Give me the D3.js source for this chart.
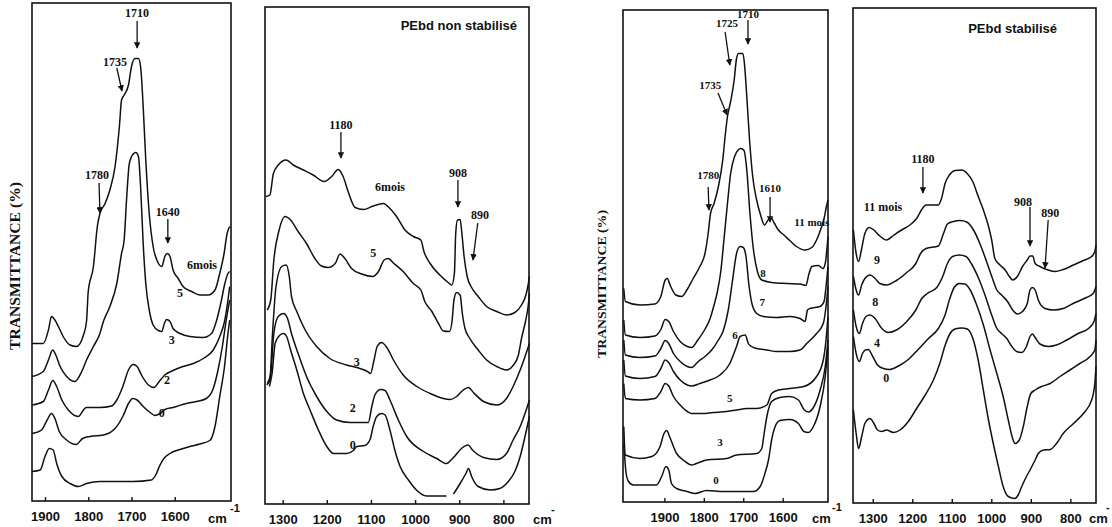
<!DOCTYPE html>
<html lang="fr">
<head>
<meta charset="UTF-8">
<title>Spectres IR PEbd</title>
<script src="https://cdnjs.cloudflare.com/ajax/libs/d3/7.8.5/d3.min.js"></script>
<style>
  body { margin: 0; background: #fff; }
  svg { display: block; }
  .tick text { font-family: "Liberation Sans", Arial, sans-serif; font-size: 13px; font-weight: bold; fill: #111; }
  .lbl { font-family: "Liberation Serif", "Times New Roman", serif; font-weight: bold; fill: #111; }
</style>
</head>
<body>
<div id="chart"></div>
<script>
// ---- panel 1 : PEbd non stabilise, 1930-1470 cm-1 ----
const p1Range = [1930, 1470];
const p1Ticks = [1900, 1800, 1700, 1600];
const p1Names = ['6mois', '5', '3', '2', '0'];
const p1NameAt = [[1537, 47.2], [1588, 41.6], [1607, 32.2], [1618, 24.2], [1630, 17.6]];
const p1_6mois = [[1930,31.5],[1904,31.5],[1892,34.2],[1885,36.9],[1877,36.2],[1869,34.9],[1858,32.9],[1842,31.2],[1827,30.9],[1811,33.2],[1804,35.9],[1800,41.9],[1788,46.9],[1779,54.9],[1773,57.5],[1761,59.5],[1750,62.2],[1738,66.9],[1728,74.9],[1723,80.2],[1717,81.2],[1707,83.2],[1700,86.9],[1692,88.5],[1684,88.5],[1679,86.9],[1673,78.9],[1667,68.2],[1659,57.5],[1650,50.9],[1640,47.9],[1630,46.9],[1623,48.9],[1617,49.5],[1611,48.9],[1604,46.2],[1592,44.5],[1581,42.9],[1561,41.9],[1542,41.2],[1523,41.2],[1507,42.2],[1496,45.5],[1486,49.5],[1479,53.5],[1473,54.9]];
const p1_5 = [[1930,24.9],[1904,25.9],[1892,28.2],[1882,30.2],[1875,29.2],[1865,26.9],[1850,24.9],[1831,23.9],[1815,25.9],[1804,28.2],[1788,30.9],[1773,33.5],[1765,35.9],[1750,38.9],[1734,43.5],[1723,49.5],[1717,52.2],[1711,60.9],[1705,67.5],[1696,69.4],[1690,69.7],[1684,68.9],[1679,62.9],[1673,51.5],[1667,43.5],[1659,38.2],[1650,35.2],[1638,34.1],[1630,33.9],[1624,35.5],[1619,36.3],[1611,35.9],[1604,34.5],[1588,33.5],[1565,32.9],[1534,32.7],[1515,33.5],[1504,35.9],[1492,40.2],[1485,43.2],[1477,45.5],[1473,45.9]];
const p1_3 = [[1930,19.2],[1904,19.9],[1892,22.2],[1882,24.1],[1873,22.9],[1861,20.2],[1846,18.2],[1823,16.9],[1811,18.2],[1805,18.7],[1773,18.7],[1746,19.0],[1734,20.2],[1720,22.9],[1707,26.2],[1696,27.3],[1687,26.9],[1677,25.2],[1661,23.2],[1648,22.7],[1636,23.9],[1623,25.2],[1604,26.1],[1581,26.9],[1557,27.5],[1534,28.5],[1511,30.2],[1496,32.9],[1485,35.9],[1477,40.2],[1473,42.9]];
const p1_2 = [[1930,13.5],[1908,14.2],[1895,16.2],[1885,17.5],[1877,16.5],[1867,13.9],[1850,12.2],[1828,11.3],[1813,12.5],[1796,12.9],[1765,13.2],[1738,14.5],[1719,17.1],[1707,19.5],[1697,20.5],[1687,20.2],[1673,18.9],[1657,17.7],[1646,17.1],[1634,17.5],[1623,18.3],[1604,18.7],[1573,19.5],[1550,19.9],[1527,20.5],[1511,22.5],[1500,26.2],[1490,30.9],[1481,36.2],[1473,40.2]];
const p1_0 = [[1930,5.9],[1911,6.2],[1900,8.9],[1890,10.5],[1881,10.2],[1873,7.5],[1861,4.9],[1842,3.5],[1823,2.9],[1804,3.5],[1773,3.9],[1696,3.9],[1654,4.2],[1644,5.2],[1634,7.2],[1625,8.5],[1611,9.5],[1588,10.3],[1565,10.9],[1542,11.4],[1519,12.1],[1507,14.9],[1496,20.9],[1485,26.9],[1477,33.5],[1473,36.2]];
const p1Peaks = [
  { label: '1710', text: [1687, 97.6], from: [1687, 96.0], to: [1687, 90.6] },
  { label: '1735', text: [1738, 87.8], from: [1734, 86.6], to: [1722, 82.0] },
  { label: '1780', text: [1780, 65.2], from: [1775, 63.6], to: [1773, 57.6] },
  { label: '1640', text: [1616, 57.8], from: [1616, 56.4], to: [1616, 51.6] }
];

// ---- panel 2 : PEbd non stabilise, 1340-742 cm-1 ----
const p2Range = [1340, 742];
const p2Ticks = [1300, 1200, 1100, 1000, 900, 800];
const p2Names = ['6mois', '5', '3', '2', '0'];
const p2NameAt = [[1057, 63.4], [1095, 50.2], [1132, 28.4], [1141, 19.2], [1141, 11.8]];
const p2_6mois = [[1338,61.5],[1329,61.8],[1321,66.1],[1310,67.8],[1292,68.8],[1276,67.8],[1253,66.8],[1231,65.8],[1206,64.5],[1189,65.5],[1174,66.9],[1163,65.5],[1151,62.3],[1136,59.3],[1117,58.9],[1095,59.6],[1072,60.1],[1057,59.1],[1042,57.5],[1023,54.8],[1004,53.5],[987,52.8],[980,50.5],[966,48.1],[944,45.8],[925,44.3],[917,43.8],[911,46.1],[908,54.1],[904,56.8],[898,56.9],[894,54.1],[889,49.5],[882,45.5],[872,43.3],[857,41.5],[838,39.5],[815,38.5],[793,37.8],[774,38.3],[759,39.8],[749,41.8],[744,43.8],[741,45.5]];
const p2_5 = [[1335,38.8],[1327,40.8],[1320,48.8],[1308,54.8],[1295,57.5],[1282,56.8],[1265,54.5],[1246,52.1],[1227,49.1],[1212,47.6],[1197,47.3],[1181,48.1],[1170,50.0],[1159,49.1],[1144,47.1],[1121,46.0],[1096,45.5],[1083,46.5],[1070,48.8],[1061,49.1],[1048,48.1],[1027,46.5],[1004,44.1],[987,42.8],[978,40.5],[962,38.5],[947,36.1],[936,34.6],[922,34.5],[916,36.8],[912,40.8],[906,42.3],[898,41.8],[893,38.1],[887,35.1],[876,33.1],[857,30.8],[838,28.8],[815,27.5],[793,26.8],[778,27.7],[766,29.8],[759,33.1],[750,36.5],[744,39.5],[741,42.1]];
const p2_3 = [[1336,23.8],[1329,24.8],[1323,34.1],[1315,43.5],[1302,47.5],[1292,47.8],[1285,45.5],[1280,41.5],[1268,38.5],[1249,34.8],[1223,31.5],[1193,29.1],[1155,27.8],[1125,27.1],[1108,26.5],[1101,26.1],[1093,28.8],[1086,31.5],[1076,32.3],[1064,31.3],[1049,28.8],[1027,25.8],[996,23.5],[966,22.1],[936,21.1],[921,20.9],[906,21.5],[891,22.8],[879,23.3],[868,22.3],[845,20.5],[815,19.8],[793,21.1],[778,23.5],[762,26.8],[751,29.5],[741,32.1]];
const p2_2 = [[1335,24.1],[1327,26.1],[1320,34.1],[1310,37.5],[1298,38.1],[1289,37.1],[1280,34.1],[1265,30.1],[1246,25.5],[1223,21.5],[1200,18.5],[1178,16.8],[1147,16.3],[1106,16.3],[1098,19.5],[1091,21.8],[1078,22.9],[1068,22.7],[1057,20.8],[1038,16.8],[1019,13.5],[981,10.5],[951,9.1],[929,8.1],[913,9.3],[895,11.1],[880,11.8],[870,10.8],[845,9.3],[815,8.9],[793,10.1],[778,12.8],[762,15.5],[751,18.1],[741,20.8]];
const p2_0 = [[1330,23.5],[1324,26.1],[1317,32.1],[1306,33.8],[1298,34.1],[1291,33.5],[1282,30.8],[1268,26.8],[1253,22.1],[1238,18.8],[1219,14.8],[1200,11.5],[1185,10.1],[1155,10.1],[1140,10.7],[1132,11.5],[1114,11.7],[1102,12.9],[1095,15.5],[1087,17.5],[1076,18.1],[1068,17.8],[1057,14.8],[1046,10.8],[1034,7.5],[1015,4.8],[997,2.8],[974,1.6],[929,1.6],null,[913,2.0],[898,4.1],[885,6.1],[879,7.1],[872,5.5],[857,3.5],[830,2.8],[808,3.1],[789,4.5],[774,6.5],[762,9.5],[751,13.5],[741,17.5]];
const p2Peaks = [
  { label: '1180', text: [1168, 75.8], from: [1168, 74.4], to: [1168, 69.2] },
  { label: '908', text: [903, 66.2], from: [903, 64.8], to: [903, 59.4] },
  { label: '890', text: [853, 57.8], from: [858, 56.2], to: [869, 48.8] }
];

// ---- panel 3 : PEbd stabilise, 2005-1485 cm-1 ----
const p3Range = [2005, 1485];
const p3Ticks = [1900, 1800, 1700, 1600];
const p3Names = ['11 mois', '8', '7', '6', '5', '3', '0'];
const p3NameAt = [[1526, 56], [1650, 45.8], [1652, 40], [1721, 33.4], [1734, 20.8], [1759, 12], [1769, 4.4]];
const p3_11 = [[2003,42.7],[1999,40.1],[1962,39.4],[1924,39.6],[1909,41.1],[1898,44.4],[1893,44.7],[1884,43.1],[1871,41.4],[1856,41.1],[1843,42.4],[1827,44.7],[1810,47.1],[1797,49.7],[1789,53.7],[1783,57.7],[1774,59.7],[1763,63.1],[1752,68.4],[1746,73.1],[1740,77.1],[1732,80.1],[1723,84.4],[1717,88.7],[1712,89.7],[1701,89.7],[1697,87.7],[1691,81.1],[1684,72.4],[1676,65.1],[1666,60.4],[1656,57.4],[1646,55.4],[1637,56.4],[1630,56.9],[1622,55.9],[1611,54.4],[1597,53.4],[1582,52.3],[1565,51.1],[1543,50.4],[1526,50.9],[1514,52.4],[1504,54.4],[1495,56.7],[1489,59.1],[1485,60.4]];
const p3_8 = [[2003,36.4],[1999,33.4],[1962,32.9],[1924,33.2],[1909,34.5],[1898,36.5],[1889,36.1],[1877,34.1],[1860,32.1],[1842,31.1],[1831,30.9],[1816,32.3],[1799,34.3],[1784,36.7],[1774,39.4],[1766,41.9],[1757,46.1],[1749,52.4],[1740,59.7],[1732,65.7],[1722,69.1],[1713,70.4],[1706,70.7],[1698,70.3],[1691,66.4],[1683,57.7],[1674,50.4],[1664,46.1],[1653,44.4],[1628,43.9],[1590,43.7],[1556,43.6],[1541,43.3],[1534,45.4],[1526,47.1],[1509,47.3],[1498,46.7],[1492,47.7],[1488,50.4],[1485,53.1]];
const p3_7 = [[2003,32.4],[1999,29.4],[1962,28.9],[1924,29.2],[1909,30.7],[1898,32.3],[1889,31.7],[1877,29.7],[1860,28.1],[1842,27.1],[1831,26.9],[1814,28.1],[1797,29.1],[1780,30.4],[1763,32.4],[1750,34.4],[1738,38.4],[1727,44.4],[1717,49.7],[1708,51.1],[1700,50.9],[1693,49.1],[1686,43.7],[1678,39.7],[1666,37.7],[1649,37.1],[1615,36.9],[1582,37.1],[1556,36.7],[1543,36.1],[1537,38.4],[1531,38.7],[1505,39.1],[1495,40.1],[1490,43.1],[1485,47.1]];
const p3_6 = [[2003,28.4],[1999,25.2],[1962,24.7],[1924,25.1],[1909,26.7],[1898,28.4],[1889,27.9],[1877,26.1],[1860,24.4],[1842,23.4],[1831,23.2],[1810,23.7],[1784,24.4],[1759,25.4],[1734,27.7],[1717,31.1],[1708,33.1],[1695,33.4],[1687,31.7],[1679,31.1],[1666,30.7],[1640,30.4],[1615,30.1],[1582,30.1],[1556,30.4],[1539,31.7],[1514,33.7],[1497,35.7],[1490,39.1],[1485,43.1]];
const p3_5 = [[2003,23.7],[1999,20.7],[1962,20.4],[1924,20.7],[1909,22.1],[1898,23.7],[1889,23.2],[1877,21.1],[1860,19.4],[1842,18.1],[1831,17.7],[1805,17.7],[1776,17.9],[1742,18.1],[1717,18.4],[1691,18.7],[1666,18.7],[1640,19.4],[1628,21.7],[1611,22.4],[1582,22.7],[1546,23.1],[1514,25.1],[1497,28.4],[1490,32.4],[1485,37.1]];
const p3_3 = [[2003,15.1],[1999,9.4],[1962,8.7],[1932,9.1],[1911,11.1],[1901,13.7],[1894,14.3],[1887,13.1],[1869,9.7],[1852,8.4],[1831,7.4],[1822,7.6],[1793,8.4],[1742,8.7],[1717,9.4],[1666,9.7],[1653,10.7],[1647,13.7],[1640,17.1],[1628,20.1],[1607,20.9],[1582,21.1],[1560,20.4],[1546,18.5],[1535,18.0],[1522,18.9],[1505,22.4],[1492,27.1],[1485,32.4]];
const p3_0 = [[2003,11.7],[1997,5.7],[1991,4.1],[1979,3.4],[1920,3.4],[1907,5.1],[1896,7.1],[1889,6.4],[1882,3.7],[1869,2.7],[1843,2.1],[1822,1.7],[1793,2.3],[1750,2.1],[1674,2.1],[1657,3.1],[1645,5.7],[1636,8.4],[1628,12.4],[1619,15.1],[1607,16.3],[1582,16.5],[1560,15.7],[1546,14.1],[1535,13.9],[1522,15.1],[1505,19.1],[1492,25.1],[1485,31.1]];
const p3Peaks = [
  { label: '1710', text: [1688, 97.6], from: [1688, 96.4], to: [1688, 91.6] },
  { label: '1725', text: [1741, 95.8], from: [1746, 94.0], to: [1734, 87.4] },
  { label: '1735', text: [1784, 83.4], from: [1764, 81.8], to: [1741, 77.4] },
  { label: '1780', text: [1789, 65.4], from: [1789, 63.0], to: [1787, 58.4] },
  { label: '1610', text: [1632, 62.8], from: [1632, 61.0], to: [1632, 56.0] }
];

// ---- panel 4 : PEbd stabilise, 1350-735 cm-1 ----
const p4Range = [1350, 735];
const p4Ticks = [1300, 1200, 1100, 1000, 900, 800];
const p4Names = ['11 mois', '9', '8', '4', '0'];
const p4NameAt = [[1274, 59.2], [1289, 48.6], [1294, 40.2], [1289, 32], [1266, 25]];
const p4_11 = [[1349,54.6],[1342,49.9],[1336,48.3],[1328,50.9],[1320,53.9],[1309,55.1],[1299,54.7],[1282,53.4],[1265,52.6],[1248,53.5],[1227,54.6],[1206,55.6],[1189,56.9],[1176,58.7],[1165,59.6],[1134,59.6],[1126,60.9],[1117,63.9],[1106,65.6],[1092,66.5],[1075,66.6],[1061,65.9],[1047,64.3],[1033,61.3],[1020,58.6],[1008,55.6],[999,52.6],[991,48.9],[978,47.6],[965,46.6],[954,45.3],[946,44.6],[934,45.3],[921,47.3],[909,48.6],[902,49.4],[895,49.4],[889,47.9],[877,47.3],[856,46.6],[839,46.3],[818,46.7],[792,47.6],[767,48.5],[746,49.3],[738,50.3],[735,51.6]];
const p4_9 = [[1349,45.3],[1342,42.6],[1336,41.6],[1328,43.6],[1320,44.9],[1307,45.6],[1294,44.9],[1282,43.9],[1265,43.6],[1240,44.5],[1214,46.1],[1191,47.9],[1179,49.9],[1165,50.9],[1134,51.4],[1121,53.9],[1111,55.8],[1096,56.3],[1079,56.5],[1062,56.2],[1045,54.6],[1029,51.9],[1012,48.3],[997,44.9],[986,42.6],[974,41.6],[959,40.3],[946,38.6],[934,37.8],[921,38.3],[909,39.9],[902,42.6],[896,43.1],[889,42.6],[881,40.6],[864,38.9],[843,38.6],[818,38.9],[788,40.1],[759,41.1],[742,41.9],[735,43.3]];
const p4_8 = [[1349,38.6],[1342,35.3],[1334,33.9],[1326,35.9],[1317,37.3],[1307,37.6],[1294,36.9],[1277,34.9],[1261,34.1],[1240,34.6],[1214,36.3],[1191,38.6],[1176,40.9],[1162,41.9],[1138,43.1],[1123,45.3],[1111,47.9],[1098,49.3],[1081,49.6],[1064,49.3],[1050,47.8],[1033,45.1],[1016,41.6],[999,37.6],[986,34.9],[974,33.9],[961,32.9],[948,31.3],[936,30.3],[923,30.1],[911,31.3],[902,33.3],[896,33.8],[889,33.1],[877,31.8],[856,31.3],[835,31.6],[809,32.6],[780,33.9],[754,34.9],[740,36.3],[735,37.9]];
const p4_4 = [[1349,33.3],[1342,29.9],[1334,28.3],[1326,29.9],[1319,30.6],[1311,30.7],[1300,29.3],[1288,27.6],[1273,26.9],[1258,26.7],[1235,27.4],[1210,28.7],[1185,30.7],[1159,32.9],[1134,34.9],[1117,37.6],[1105,40.9],[1094,43.1],[1081,43.9],[1067,43.8],[1054,42.7],[1037,39.6],[1020,35.6],[1003,30.6],[986,25.9],[970,21.3],[957,16.6],[946,12.9],[940,11.9],[929,12.6],[919,15.3],[909,19.3],[900,21.9],[889,22.6],[873,23.3],[851,23.9],[826,25.3],[801,26.6],[776,27.9],[750,29.3],[738,30.6],[735,32.6]];
const p4_0 = [[1349,18.6],[1342,13.9],[1336,10.9],[1328,13.3],[1320,15.9],[1307,16.9],[1297,15.9],[1288,14.6],[1277,14.3],[1265,14.6],[1248,14.1],[1231,14.6],[1210,16.3],[1189,18.9],[1168,21.5],[1147,24.5],[1130,28.0],[1117,31.5],[1105,33.8],[1092,34.8],[1075,35.0],[1061,34.8],[1047,33.0],[1033,28.5],[1020,22.5],[1008,17.0],[995,11.9],[982,7.3],[970,3.3],[957,1.3],[940,0.9],[932,1.6],[923,3.3],[911,5.3],[902,6.6],[889,8.6],[881,9.9],[868,10.6],[851,10.7],[835,11.9],[818,13.9],[792,15.9],[767,17.9],[746,20.6],[738,23.9],[735,27.3]];
const p4Peaks = [
  { label: '1180', text: [1173, 68.8], from: [1173, 67.2], to: [1173, 62.0] },
  { label: '908', text: [920, 60.2], from: [902, 59.2], to: [902, 51.4] },
  { label: '890', text: [851, 58.0], from: [856, 56.6], to: [864, 47.0] }
];

const width = 1112;
const height = 527;

// layout of the four frames (pixels)
const panels = [
  { box: [32, 3, 231, 501], range: p1Range, ticks: p1Ticks, curves: [p1_6mois, p1_5, p1_3, p1_2, p1_0], names: p1Names, nameAt: p1NameAt, peaks: p1Peaks, fs: 12,
    cm: { x: 208, y: 523, sx: 230, sy: 512, sup: '-1' } },
  { box: [265, 7, 529, 504], range: p2Range, ticks: p2Ticks, curves: [p2_6mois, p2_5, p2_3, p2_2, p2_0], names: p2Names, nameAt: p2NameAt, peaks: p2Peaks, fs: 12,
    cm: { x: 533, y: 524, sx: 551, sy: 513, sup: '-' },
    title: { text: 'PEbd non stabilisé', x: 517, y: 30 } },
  { box: [623, 10, 828, 502], range: p3Range, ticks: p3Ticks, curves: [p3_11, p3_8, p3_7, p3_6, p3_5, p3_3, p3_0], names: p3Names, nameAt: p3NameAt, peaks: p3Peaks, fs: 11,
    cm: { x: 812, y: 523, sx: 832, sy: 511, sup: '-1' } },
  { box: [853, 8, 1096, 503], range: p4Range, ticks: p4Ticks, curves: [p4_11, p4_9, p4_8, p4_4, p4_0], names: p4Names, nameAt: p4NameAt, peaks: p4Peaks, fs: 12,
    cm: { x: 1089, y: 523, sx: 1106, sy: 511, sup: '-' },
    title: { text: 'PEbd stabilisé', x: 1057, y: 33 } }
];

const svg = d3.select('#chart')
  .append('svg')
  .attr('width', width)
  .attr('height', height);

svg.append('defs')
  .append('marker')
  .attr('id', 'head')
  .attr('viewBox', '0 0 10 10')
  .attr('refX', 9)
  .attr('refY', 5)
  .attr('markerWidth', 5)
  .attr('markerHeight', 5)
  .attr('orient', 'auto')
  .append('path')
  .attr('d', 'M0,0L10,5L0,10z')
  .attr('fill', '#111');

panels.forEach(p => {
  const [x0, y0, x1, y1] = p.box;
  const x = d3.scaleLinear().domain(p.range).range([x0, x1]);
  const y = d3.scaleLinear().domain([0, 100]).range([y1, y1 - 500]);
  const g = svg.append('g');

  // frame
  g.append('rect')
    .attr('x', x0).attr('y', y0)
    .attr('width', x1 - x0).attr('height', y1 - y0)
    .attr('fill', 'none')
    .attr('stroke', '#111')
    .attr('stroke-width', 1.6);

  // axis
  const axis = g.append('g')
    .attr('transform', `translate(0,${y1})`)
    .call(d3.axisBottom(x).tickValues(p.ticks).tickSize(-4).tickPadding(11).tickFormat(d3.format('d')));
  axis.select('.domain').remove();
  axis.selectAll('.tick line').attr('stroke', '#111').attr('stroke-width', 1.4);

  const cm = g.append('text')
    .attr('font-family', '"Liberation Sans", Arial, sans-serif')
    .attr('font-weight', 'bold')
    .attr('font-size', 13)
    .attr('fill', '#111');
  cm.append('tspan').attr('x', p.cm.x).attr('y', p.cm.y).text('cm');
  cm.append('tspan').attr('x', p.cm.sx).attr('y', p.cm.sy).attr('font-size', 11).text(p.cm.sup);

  // spectra
  const line = d3.line()
    .defined(d => d !== null)
    .x(d => x(d[0]))
    .y(d => y(d[1]))
    .curve(d3.curveMonotoneX);
  g.selectAll('path.spec')
    .data(p.curves)
    .enter()
    .append('path')
    .attr('class', 'spec')
    .attr('d', line)
    .attr('fill', 'none')
    .attr('stroke', '#111')
    .attr('stroke-width', 1.5)
    .attr('stroke-linejoin', 'round');

  // curve names
  g.selectAll('text.name')
    .data(p.names)
    .enter()
    .append('text')
    .attr('class', 'lbl name')
    .attr('x', (d, i) => x(p.nameAt[i][0]))
    .attr('y', (d, i) => y(p.nameAt[i][1]) + 4)
    .attr('text-anchor', 'middle')
    .attr('font-size', p.fs)
    .text(d => d);

  // peak markers
  g.selectAll('line.arrow')
    .data(p.peaks)
    .enter()
    .append('line')
    .attr('class', 'arrow')
    .attr('x1', d => x(d.from[0])).attr('y1', d => y(d.from[1]))
    .attr('x2', d => x(d.to[0])).attr('y2', d => y(d.to[1]))
    .attr('stroke', '#111')
    .attr('stroke-width', 1.3)
    .attr('marker-end', 'url(#head)');
  g.selectAll('text.peak')
    .data(p.peaks)
    .enter()
    .append('text')
    .attr('class', 'lbl peak')
    .attr('x', d => x(d.text[0]))
    .attr('y', d => y(d.text[1]) + 4)
    .attr('text-anchor', 'middle')
    .attr('font-size', p.fs)
    .text(d => d.label);

  if (p.title) {
    g.append('text')
      .attr('x', p.title.x)
      .attr('y', p.title.y)
      .attr('text-anchor', 'end')
      .attr('font-family', '"Liberation Sans", Arial, sans-serif')
      .attr('font-weight', 'bold')
      .attr('font-size', 13)
      .attr('fill', '#111')
      .text(p.title.text);
  }
});

// y labels
const yLabels = [
  { x: 15, y: 266, size: 15, len: 168 },
  { x: 601, y: 284, size: 13, len: 148 }
];
svg.selectAll('text.ylab')
  .data(yLabels)
  .enter()
  .append('text')
  .attr('class', 'lbl ylab')
  .attr('transform', d => `translate(${d.x + d.size * 0.35},${d.y}) rotate(-90)`)
  .attr('text-anchor', 'middle')
  .attr('font-size', d => d.size)
  .attr('textLength', d => d.len)
  .attr('lengthAdjust', 'spacingAndGlyphs')
  .text('TRANSMITTANCE (%)');
</script>
</body>
</html>
